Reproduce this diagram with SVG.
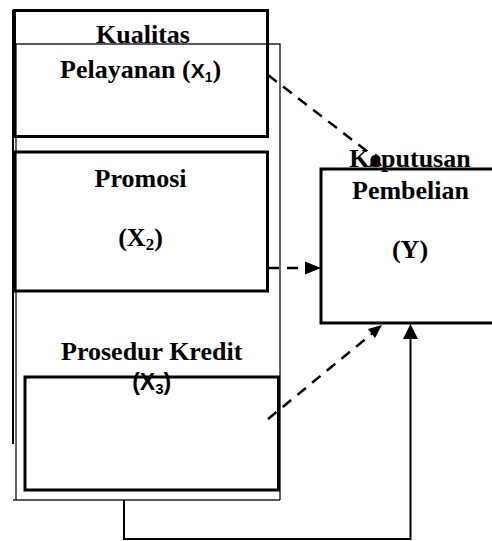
<svg xmlns="http://www.w3.org/2000/svg" width="492" height="541" viewBox="0 0 492 541">
<style>
.box{fill:none;stroke:#000;stroke-width:3}
.thin{fill:none;stroke:#222;stroke-width:1.4}
.t{font-family:"Liberation Serif","Times New Roman",serif;font-weight:bold;font-size:26px;fill:#000}
.s{font-family:"Liberation Sans",Arial,sans-serif;font-weight:bold;font-size:21px}
.s3{font-family:"Liberation Sans",Arial,sans-serif;font-weight:bold;font-size:23px}
.dash{fill:none;stroke:#000;stroke-width:2.5;stroke-dasharray:11 8}
.solid{fill:none;stroke:#000;stroke-width:2}
.head{fill:#000}
</style>
<rect width="492" height="541" fill="#fff"/>
<g id="frame">
<line x1="13" y1="10" x2="13" y2="444" stroke="#000" stroke-width="2"/>
<path class="thin" d="M16,44 H280 V500 M13,500 H280 M16,44 V500"/>
</g>
<g id="kualitas">
<rect class="box" x="14.5" y="10.5" width="253" height="126"/>
<text class="t" x="143" y="43" text-anchor="middle">Kualitas</text>
<text class="t" x="60" y="78">Pelayanan (<tspan class="s">X</tspan><tspan class="s" style="font-size:14px" dy="4">1</tspan><tspan dy="-4">)</tspan></text>
</g>
<g id="promosi">
<rect class="box" x="14.5" y="152" width="253" height="139"/>
<text class="t" x="140.5" y="246" text-anchor="middle">(X<tspan style="font-size:17px" dy="4">2</tspan><tspan dy="-4">)</tspan></text>
<text class="t" x="140.5" y="187" text-anchor="middle">Promosi</text>
</g>
<g id="prosedur">
<rect class="box" x="25" y="377" width="253.5" height="113" stroke-width="2.5"/>
<text class="t" x="151.7" y="360" text-anchor="middle">Prosedur Kredit</text>
<text class="s3" x="151.7" y="390" text-anchor="middle">(X<tspan style="font-size:15px" dy="4">3</tspan><tspan dy="-4">)</tspan></text>
</g>
<g id="keputusan">
<path class="box" stroke-width="2.5" d="M494,169 H321 V323 H494"/>
<text class="t" x="410" y="167" text-anchor="middle">Keputusan</text>
<text class="t" x="410.5" y="199" text-anchor="middle">Pembelian</text>
<text class="t" x="410" y="258" text-anchor="middle">(Y)</text>
</g>
<g id="connectors">
<line class="dash" x1="268" y1="75" x2="368" y2="152"/>
<polygon class="head" points="376,153 369,167 382,166"/>
<line class="dash" x1="268" y1="268" x2="306" y2="268"/>
<polygon class="head" points="321,268 305,261.5 305,274.5"/>
<line class="dash" x1="268" y1="419" x2="374" y2="332"/>
<polygon class="head" points="382,325 368,329 375,338"/>
<path class="solid" d="M124,500 V539 H410.5 V338"/>
<polygon class="head" points="410.5,324 403,339 418,339"/>
</g>
</svg>
